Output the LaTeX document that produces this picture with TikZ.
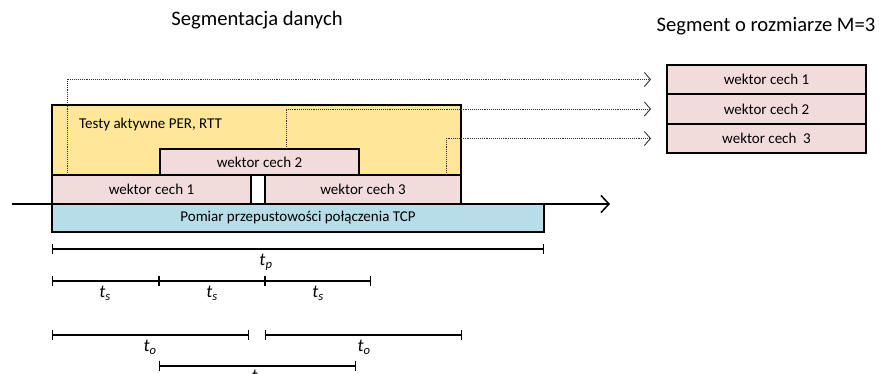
\documentclass[tikz,border=0pt]{standalone}
\usepackage{fontspec}
\setmainfont{Carlito}
\usetikzlibrary{arrows.meta,calc}
\definecolor{yel}{HTML}{FFE699}
\definecolor{pnk}{HTML}{F2DCDB}
\definecolor{blu}{HTML}{B7DEE8}
\begin{document}
\begin{tikzpicture}[x=1pt,y=-1pt,
  box/.style={draw=black,line width=1.5pt,rectangle,inner sep=0pt,outer sep=0pt,font=\fontsize{15}{17}\selectfont},
  dotarrow/.style={densely dotted,line width=0.9pt,draw=black!80,-{Straight Barb[length=6pt,width=14pt,line width=0.9pt]}},
  bar/.style={line width=1.4pt,{|[width=10pt,line width=1.4pt]}-{|[width=10pt,line width=1.4pt]}},
  tlab/.style={anchor=north,inner sep=0pt,font=\fontsize{18}{20}\selectfont\itshape},
  ttl/.style={inner sep=0pt,font=\fontsize{20.6}{22}\selectfont}]
\useasboundingbox (0,0) rectangle (879,374);
% titles
\node[ttl] (t1) at (257,20) {Segmentacja danych};
\node[ttl] (t2) at (766,26) {Segment o rozmiarze M=3};
% yellow
\node[box,fill=yel,minimum width=409pt,minimum height=70pt] (yb) at (256.5,140) {};
\node[anchor=west,inner sep=0pt,font=\fontsize{15}{17}\selectfont] (ytxt) at (79,125) {Testy aktywne PER, RTT};
% wektor boxes
\node[box,fill=pnk,minimum width=199pt,minimum height=26pt] (w2) at (259.5,162) {wektor cech 2};
\node[box,fill=pnk,minimum width=199pt,minimum height=29pt] (w1) at (151.5,189.5) {wektor cech 1};
\node[box,fill=pnk,minimum width=196pt,minimum height=29pt] (w3) at (363,189.5) {wektor cech 3};
% blue
\node[box,fill=blu,minimum width=492pt,minimum height=28pt] (bl) at (298,218) {Pomiar przepustowości połączenia TCP};
% axis
\coordinate (ax0) at (12,204);
\coordinate (ax1) at (610,204);
\draw[line width=1.5pt,-{Straight Barb[length=8pt,width=17pt,line width=1.5pt]}] (ax0) -- (ax1);
% right boxes
\node[box,fill=pnk,minimum width=199pt,minimum height=29pt] (r1) at (766.5,79.5) {wektor cech 1};
\node[box,fill=pnk,minimum width=199pt,minimum height=30pt] (r2) at (766.5,109) {wektor cech 2};
\node[box,fill=pnk,minimum width=199pt,minimum height=29pt] (r3) at (766.5,138.5) {wektor cech\ \ 3};
% dotted connectors
\draw[dotarrow] ($(w1.north west)+(15,0)$) |- ([xshift=-16pt]r1.west);
\draw[dotarrow] ($(w2.north west)+(126,0)$) |- ([xshift=-16pt]r2.west);
\draw[dotarrow] ($(w3.north east)+(-15,0)$) |- ([xshift=-16pt]r3.west);
% time bars
\coordinate (p0) at (52,249); \coordinate (p1) at (544,249);
\draw[bar] (p0) -- (p1);
\node[tlab] (lp) at (266,254) {t\textsubscript{p}};
\coordinate (s0) at (52,281); \coordinate (s1) at (159,281);
\coordinate (s2) at (265,281); \coordinate (s3) at (371,281);
\draw[bar] (s0) -- (s1);
\draw[bar] (s1) -- (s2);
\draw[bar] (s2) -- (s3);
\node[tlab] (ls1) at (105,286) {t\textsubscript{s}};
\node[tlab] (ls2) at (212,286) {t\textsubscript{s}};
\node[tlab] (ls3) at (318,286) {t\textsubscript{s}};
\coordinate (o0) at (52,335); \coordinate (o1) at (249,335);
\coordinate (o2) at (265,335); \coordinate (o3) at (462,335);
\draw[bar] (o0) -- (o1);
\draw[bar] (o2) -- (o3);
\node[tlab] (lo1) at (150,340) {t\textsubscript{o}};
\node[tlab] (lo2) at (364,340) {t\textsubscript{o}};
\coordinate (q0) at (159,366); \coordinate (q1) at (356,366);
\draw[bar] (q0) -- (q1);
\node[tlab] (lo3) at (258,370) {t\textsubscript{o}};
\end{tikzpicture}
\end{document}
